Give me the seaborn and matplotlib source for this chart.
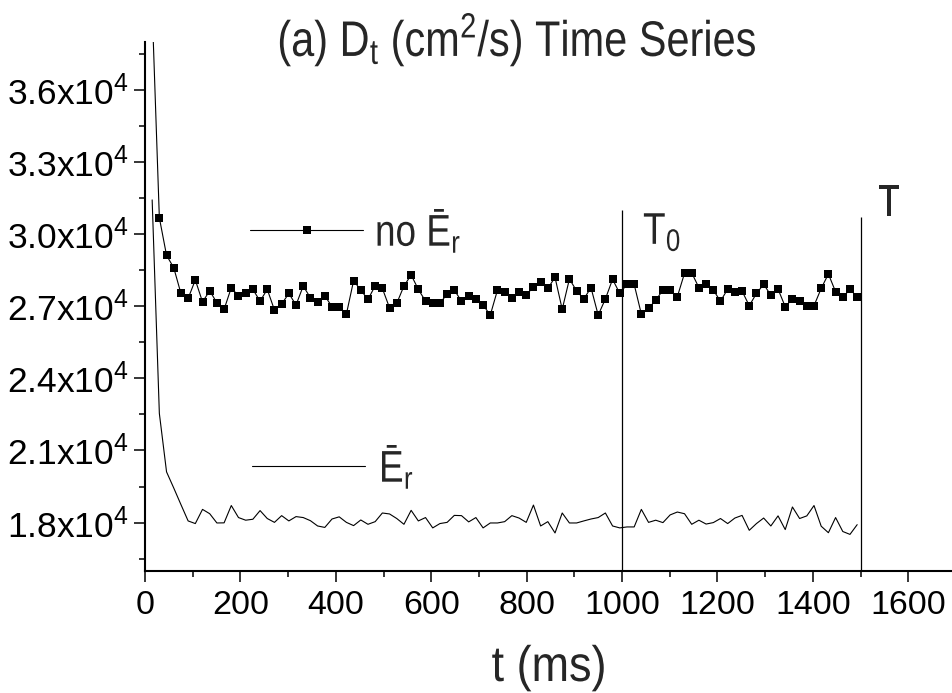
import numpy as np
import pandas as pd
import matplotlib
matplotlib.use("Agg")
import matplotlib.pyplot as plt
import seaborn as sns
from matplotlib.patheffects import AbstractPathEffect
from matplotlib.transforms import Affine2D
from matplotlib.ticker import FixedLocator, MultipleLocator, FixedFormatter

# ---------------- data ----------------
START_MS = 15.0
STEP_MS = 15.08

no_er = [39400,
         30680, 29115, 28600, 27530, 27325, 28090, 27180, 27640, 27140, 26870,
         27770, 27420, 27560, 27700, 27210, 27700, 26840, 27090, 27530, 27050,
         27840, 27350, 27180, 27430, 26980, 26980, 26670, 28060, 27670, 27280,
         27850, 27740, 26930, 27120,
         27840, 28300, 27700, 27210, 27120, 27140, 27490, 27670, 27210, 27430,
         27300, 27050, 26630, 27670, 27600, 27350, 27600, 27460, 27810, 27990,
         27740, 28200, 26870, 28130, 27640, 27300, 27770, 26630, 27300, 28120,
         27530, 27910,
         27910, 26670, 26910, 27250, 27670, 27670, 27390, 28370, 28390, 27770,
         27910, 27670, 27210, 27710, 27600, 27630, 27020, 27530, 27910, 27460,
         27710, 26980, 27300, 27210, 27020, 27020, 27740, 28340, 27600, 27370,
         27700, 27390]

er = [31420, 22540, 20110, 19440, 18750, 18070,
      17960, 18550, 18370, 17985, 17990, 18710, 18210, 18100, 18140, 18500,
      18170, 18010, 18290, 18070, 18250, 18210, 18080, 17860, 17800, 18150,
      18240, 18010, 17875, 18110, 17930, 18040, 18400, 18360, 18170,
      17930, 18510, 18070, 18210, 17780, 17960, 18010, 18300, 18290, 18030,
      18210, 17780, 17985, 17985, 18040, 18290, 18190, 18010, 18730, 17860,
      18040, 17570, 18400, 17985, 17985, 18070, 18150, 18210, 18400, 17860,
      17780, 17820,
      17820, 18550, 18010, 18100, 18000, 18320, 18440, 18370, 17930, 18100,
      17940, 18000, 18170, 17960, 18190, 18300, 17680, 17960, 18190, 17860,
      18280, 17710, 18650, 18170, 18280, 18710, 17850, 17580, 18210, 17630,
      17510, 17915]

time_ms = START_MS + STEP_MS * np.arange(len(no_er))

y_ticks = [18000, 21000, 24000, 27000, 30000, 33000, 36000]
y_tick_labels = ["1.8x10$^{4}$", "2.1x10$^{4}$", "2.4x10$^{4}$", "2.7x10$^{4}$",
                 "3.0x10$^{4}$", "3.3x10$^{4}$", "3.6x10$^{4}$"]
x_ticks = [0, 200, 400, 600, 800, 1000, 1200, 1400, 1600]
x_tick_labels = [str(v) for v in x_ticks]

mark_times = [1000, 1500]
mark_tops = [31000, 30700]
mark_labels = ["T$_\\mathrm{0}$", "T"]
mark_label_pos = [(1044, 29590), (1536, 30750)]

series_labels = ["no \u0112$_\\mathrm{r}$", "\u0112$_\\mathrm{r}$"]
title = "(a) D$_\\mathrm{t}$ (cm$^\\mathrm{2}$/s) Time Series"
xlabel = "t (ms)"


# narrow (condensed) look of the reference lettering: squeeze glyph paths
# horizontally about a fixed pixel column; the text stays a real Text artist.
class HSqueeze(AbstractPathEffect):
    def __init__(self, cx, sx):
        super().__init__()
        self.cx = cx
        self.sx = sx

    def draw_path(self, renderer, gc, tpath, affine, rgbFace=None):
        sq = Affine2D().translate(-self.cx, 0).scale(self.sx, 1).translate(self.cx, 0)
        renderer.draw_path(gc, tpath, affine + sq, rgbFace)


# ---------------- style ----------------
sns.set_theme(style="ticks")
plt.rcParams["font.family"] = ["Liberation Sans", "DejaVu Sans"]
plt.rcParams["mathtext.fontset"] = "custom"
plt.rcParams["mathtext.rm"] = "Liberation Sans"
plt.rcParams["mathtext.it"] = "Liberation Sans:italic"
plt.rcParams["mathtext.bf"] = "Liberation Sans:bold"

W, H = 952, 693
SX = 0.83
fig = plt.figure(figsize=(W / 100, H / 100), dpi=100)
ax = fig.add_axes([145 / W, 1 - 570.7 / H, 811 / W, (570.7 - 41.7) / H])

df = pd.DataFrame({"t": time_ms, "no_er": no_er, "er": er})
sns.lineplot(data=df, x="t", y="no_er", ax=ax, color="black", lw=0.8,
             marker="s", markersize=5.2, markeredgewidth=0,
             markerfacecolor="black", estimator=None, legend=False)
sns.lineplot(data=df, x="t", y="er", ax=ax, color="black", lw=0.8,
             estimator=None, legend=False)

ax.set_xlim(0, 1700)
ax.set_ylim(16000, 38000)
ax.vlines(mark_times, 16000, mark_tops, color="black", lw=0.9)
for lab, (tx, ty) in zip(mark_labels, mark_label_pos):
    cx = ax.transData.transform((tx, ty))[0]
    ax.text(tx, ty, lab, ha="left", va="baseline", fontsize=32,
            path_effects=[HSqueeze(cx, SX)])

ax.xaxis.set_major_locator(FixedLocator(x_ticks))
ax.xaxis.set_major_formatter(FixedFormatter(x_tick_labels))
ax.xaxis.set_minor_locator(MultipleLocator(100))
ax.yaxis.set_major_locator(FixedLocator(y_ticks))
ax.yaxis.set_major_formatter(FixedFormatter(y_tick_labels))
ax.yaxis.set_minor_locator(MultipleLocator(1500))
ax.set_xlabel("")
ax.set_ylabel("")

for side in ["top", "right"]:
    ax.spines[side].set_visible(False)
for side in ["left", "bottom"]:
    ax.spines[side].set_linewidth(1.5)
    ax.spines[side].set_color("black")

ax.tick_params(which="major", direction="out", length=8, width=1.1,
               color="black", labelsize=24, labelcolor="black")
ax.tick_params(which="minor", direction="out", length=4.5, width=1.1, color="black")
ax.tick_params(axis="y", which="major", pad=4, labelsize=25.5)
ax.tick_params(axis="x", which="major", pad=6, labelsize=24.5)

fs_leg = 32
fs_px = fs_leg * 100 / 72
leg_specs = [
    (ax.lines[0], series_labels[0], 250, 231, 12),
    (ax.lines[1], series_labels[1], 252, 467, 14),
]
for i, (hline, lab, lx, ly, gap) in enumerate(leg_specs):
    leg = ax.legend(handles=[hline], labels=[lab],
                    loc="center left", bbox_to_anchor=(lx / W, 1 - ly / H),
                    bbox_transform=fig.transFigure, frameon=False,
                    prop={"size": fs_leg}, handlelength=113 / fs_px,
                    handletextpad=gap / fs_px,
                    borderpad=0, borderaxespad=0, numpoints=1)
    leg.get_texts()[0].set_path_effects([HSqueeze(lx + 113 + gap, SX)])
    if i == 0:
        ax.add_artist(leg)

fig.text(517 / W, 1 - 56 / H, title, ha="center", va="baseline",
         fontsize=36, path_effects=[HSqueeze(517, SX)])
fig.text(549 / W, 1 - 681 / H, xlabel, ha="center", va="baseline",
         fontsize=36, path_effects=[HSqueeze(549, 0.9)])

fig.savefig("out.png", dpi=100)
